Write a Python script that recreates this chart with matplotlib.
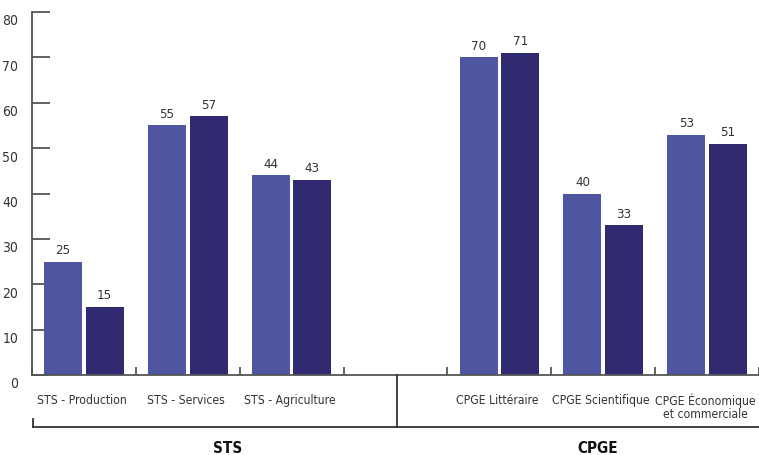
import matplotlib
matplotlib.use("Agg")
import matplotlib.pyplot as plt
from matplotlib.lines import Line2D
import matplotlib.transforms as mt
import numpy as np

categories = ["STS - Production", "STS - Services", "STS - Agriculture", "",
              "CPGE Littéraire", "CPGE Scientifique", "CPGE Économique\net commerciale"]
series_a = [25, 55, 44, np.nan, 70, 40, 53]
series_b = [15, 57, 43, np.nan, 71, 33, 51]
y_ticks = [0, 10, 20, 30, 40, 50, 60, 70, 80]
groups = ["STS", "CPGE"]

plt.rcParams['font.family'] = ['DejaVu Sans']
plt.rcParams['font.stretch'] = 'condensed'

W, H = 759, 456
fig = plt.figure(figsize=(W/100, H/100), dpi=100)
ax = fig.add_axes([32/W, (H-376)/H, (759-32)/W, (376-13)/H])

col_a = "#4e55a1"
col_b = "#302b71"
x = np.arange(len(categories))
off, bw = 0.2, 0.365
ba = ax.bar(x - off, series_a, bw, color=col_a, zorder=2)
bb = ax.bar(x + off, series_b, bw, color=col_b, zorder=2)
for bars, vals in ((ba, series_a), (bb, series_b)):
    for r, v in zip(bars, vals):
        if np.isnan(v):
            continue
        ax.annotate(f"{v:g}", (r.get_x() + r.get_width()/2, v), xytext=(0, 4),
                    textcoords="offset points", ha="center", va="bottom",
                    fontsize=9.5, color="#333333")

ax.set_xlim(-0.5, len(categories) - 0.5)
ax.set_ylim(0, 80)
for s in ("top", "right"):
    ax.spines[s].set_visible(False)
ax.spines["left"].set_color("#555555")
ax.spines["bottom"].set_color("#555555")
ax.spines["left"].set_linewidth(1.3)
ax.spines["bottom"].set_linewidth(1.3)

ax.set_yticks(y_ticks)
ax.set_yticklabels([str(t) for t in y_ticks], fontsize=10, color="#333333")
ax.tick_params(axis="y", direction="in", length=13, width=1.3, color="#555555", pad=10)
for lab in ax.get_yticklabels():
    lab.set_transform(lab.get_transform() + mt.ScaledTranslation(0, -5/72, fig.dpi_scale_trans))

ax.set_xticks(np.arange(len(categories) + 1) - 0.5)
ax.set_xticklabels([])
ax.tick_params(axis="x", direction="in", length=6, width=1.3, color="#555555")
for i, c in enumerate(categories):
    ax.text(i - 0.02, -3.9, c, ha="center", va="top", fontsize=8.7, color="#333333",
            linespacing=0.95)

def fx(px):
    return px / W
def fy(py):
    return (H - py) / H
lc = "#333333"
fig.add_artist(Line2D([fx(33), fx(759)], [fy(428), fy(428)], color=lc, lw=1.3))
fig.add_artist(Line2D([fx(33), fx(33)], [fy(420), fy(428)], color=lc, lw=1.3))
fig.add_artist(Line2D([fx(397), fx(397)], [fy(376), fy(428)], color=lc, lw=1.3))
fig.text(fx(228), fy(448.5), groups[0], ha="center", va="center", fontsize=11,
         fontweight="bold", color="#111111")
fig.text(fx(598), fy(448.5), groups[1], ha="center", va="center", fontsize=11,
         fontweight="bold", color="#111111")

fig.savefig("out.png", dpi=100)
